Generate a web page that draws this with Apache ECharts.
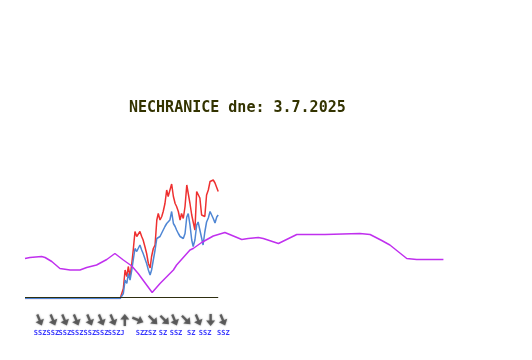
<!DOCTYPE html>
<html>
<head>
<meta charset="utf-8">
<script src="https://cdn.jsdelivr.net/npm/echarts@6/dist/echarts.min.js"></script>
<style>
html,body{margin:0;padding:0;background:#fff;}
#chart{width:532px;height:360px;}
</style>
</head>
<body>
<div id="chart"></div>
<script>
// Time in minutes from midnight
const titleText = 'NECHRANICE dne: 3.7.2025';

const windTimes = [0, 320, 327, 338, 344, 350, 355, 361, 367, 372, 378, 384, 389,
  395, 401, 406, 412, 418, 424, 430, 435, 441, 447,
  453, 458, 464, 470, 475, 481, 487, 492, 498, 504,
  510, 516, 521, 527, 533, 538, 544, 550, 556, 561,
  567, 573, 578, 584, 590, 595, 601, 607, 612, 618,
  624, 630, 636, 641, 647, 653, 659, 664];

// gusts (m/s)
const gust = [0, 0, 0, 1.0, 2.85, 2.2, 3.2, 2.2, 3.5, 4.85, 6.7, 6.2, 6.35,
  6.7, 6.2, 5.85, 5.2, 4.5, 3.5, 3.05, 4.2, 5.0, 5.35,
  7.85, 8.5, 7.85, 8.2, 8.7, 9.5, 10.85, 10.2, 10.35, 11.45,
  10.2, 9.5, 9.2, 8.7, 7.85, 8.5, 8.0, 9.2, 11.35, 11.2,
  9.5, 8.35, 7.65, 6.85, 10.7, 10.65, 10.05, 8.35, 8.2, 8.2,
  10.35, 10.85, 11.7, 11.75, 11.85, 11.55, 11.7, 10.7];

// mean wind speed (m/s)
const speed = [0, 0, 0, 0.5, 1.85, 1.5, 2.5, 1.85, 2.85, 3.85, 5.0, 4.7, 5.0,
  5.35, 4.85, 4.5, 4.0, 3.5, 2.85, 2.35, 2.85, 3.85, 4.85,
  6.0, 5.85, 6.2, 6.0, 6.85, 7.2, 7.5, 7.65, 7.85, 8.7,
  7.5, 7.2, 6.85, 6.5, 6.2, 6.05, 6.0, 6.5, 8.15, 8.5,
  7.35, 5.85, 5.2, 5.85, 7.35, 7.65, 6.85, 6.05, 5.35, 6.65,
  7.65, 8.05, 8.7, 8.5, 8.0, 7.55, 8.15, 8.35];

const tempTimes = [0, 17, 57, 69, 92, 120, 155, 189, 212, 246, 281, 309, 338, 367, 389,
  437, 464, 510, 521, 567, 578, 607, 647, 687, 716, 745, 767, 802, 819, 871, 899,
  934, 1031, 1034, 1151, 1186, 1226, 1254, 1312, 1346, 1438];
const temp = [14.0, 14.1, 14.2, 14.1, 13.7, 13.0, 12.85, 12.85, 13.1, 13.35, 13.9, 14.5, 13.85, 13.25, 12.5,
  10.6, 11.5, 12.85, 13.35, 14.85, 15.0, 15.6, 16.25, 16.6, 16.25, 15.9, 16.0, 16.1, 16.0, 15.5, 15.9,
  16.4, 16.4, 16.5, 16.5, 16.4, 15.8, 15.35, 14.0, 13.9, 13.9];

// wind direction arrows (direction wind blows FROM, degrees)
const arrowTimes = [50, 96, 136, 176, 222, 262, 302, 343, 388, 440, 480, 514, 554, 595, 638, 680];
const arrowDirs = [337.5, 337.5, 337.5, 337.5, 337.5, 337.5, 337.5, 180, 292.5, 315, 315, 337.5, 315, 337.5, 0, 337.5];

const labelTimes = [52, 96, 137, 179, 223, 265, 306, 335, 395, 430, 474, 519, 571, 619, 682];
const labelTexts = ['SSZ', 'SSZ', 'SSZ', 'SSZ', 'SSZ', 'SSZ', 'SSZ', 'J', 'SZ', 'ZSZ', 'SZ', 'SSZ', 'SZ', 'SSZ', 'SSZ'];

const zip = (xs, ys) => xs.map((x, i) => [x, ys[i]]);

const chart = echarts.init(document.getElementById('chart'), null, {renderer: 'canvas'});
const arrowPath = 'path://M5,0 L10,6 L6.3,6 L6.3,13 L3.7,13 L3.7,6 L0,6 Z';

chart.setOption({
  animation: false,
  backgroundColor: '#ffffff',
  title: {
    text: titleText,
    left: 129,
    top: 101,
    padding: 0,
    textStyle: {fontFamily: 'DejaVu Sans Mono', fontWeight: 'bold', fontSize: 15, color: '#333300'}
  },
  grid: [
    {left: 25, right: 88, top: 98.5, bottom: 61.5, containLabel: false},
    {left: 25, right: 88, top: 310, height: 20, containLabel: false}
  ],
  xAxis: [
    {type: 'value', gridIndex: 0, min: 0, max: 1440, show: false},
    {type: 'value', gridIndex: 1, min: 0, max: 1440, show: false}
  ],
  yAxis: [
    {type: 'value', gridIndex: 0, min: 0, max: 20, show: false},
    {type: 'value', gridIndex: 0, min: -0.1, max: 19.9, show: false},
    {type: 'value', gridIndex: 0, min: 10, max: 30, show: false},
    {type: 'value', gridIndex: 1, min: -1, max: 1, show: false}
  ],
  series: [
    {
      name: 'náraz', type: 'line', xAxisIndex: 0, yAxisIndex: 0,
      data: zip(windTimes, gust), symbol: 'none',
      lineStyle: {color: '#ee3030', width: 1.5}
    },
    {
      name: 'rychlost', type: 'line', xAxisIndex: 0, yAxisIndex: 0,
      data: zip(windTimes, speed), symbol: 'none',
      lineStyle: {color: '#4f86d4', width: 1.5}
    },
    {
      name: 'osa', type: 'line', xAxisIndex: 0, yAxisIndex: 1,
      data: [[windTimes[0], 0], [windTimes[windTimes.length - 1], 0]], symbol: 'none',
      lineStyle: {color: '#2e2e10', width: 1}
    },
    {
      name: 'teplota', type: 'line', xAxisIndex: 0, yAxisIndex: 2,
      data: zip(tempTimes, temp), symbol: 'none',
      lineStyle: {color: '#c030ee', width: 1.5}
    },
    {
      name: 'směr', type: 'scatter', xAxisIndex: 1, yAxisIndex: 3,
      data: arrowTimes.map(t => [t, 0]),
      symbol: arrowPath, symbolSize: [9, 12], symbolKeepAspect: false,
      symbolRotate: (v, p) => -(arrowDirs[p.dataIndex] + 180),
      itemStyle: {color: '#474747', shadowBlur: 2, shadowColor: 'rgba(0,0,0,0.5)'},
      clip: false
    },
    {
      name: 'směr text', type: 'scatter', xAxisIndex: 1, yAxisIndex: 3,
      data: labelTimes.map(t => [t, 0]),
      symbolSize: 0.001, clip: false,
      label: {
        show: true, position: 'inside', offset: [0, 13.5],
        formatter: p => labelTexts[p.dataIndex],
        fontFamily: 'DejaVu Sans Mono', fontSize: 7, fontWeight: 'bold', color: '#0000ff'
      }
    }
  ]
});
</script>
</body>
</html>
